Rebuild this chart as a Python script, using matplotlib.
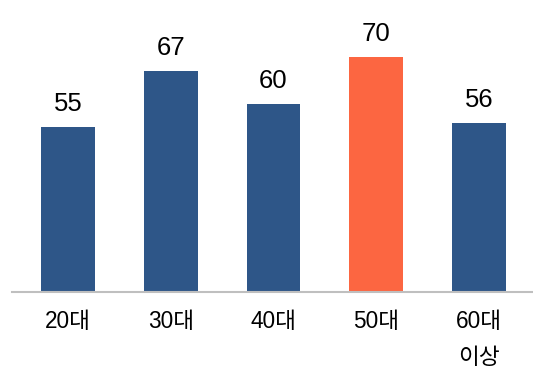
import matplotlib.pyplot as plt

# 데이터
categories = ['20대', '30대', '40대', '50대', '60대\n이상']
values = [55, 67, 60, 70, 56]
colors = ['#2E5688', '#2E5688', '#2E5688', '#FC6641', '#2E5688']

plt.rcParams['font.family'] = ['Liberation Sans', 'Noto Sans CJK KR', 'DejaVu Sans']


def draw_chart():
    fig = plt.figure(figsize=(5.33, 3.69), dpi=100)
    ax = fig.add_axes([12 / 533, 77 / 369, 521 / 533, 292 / 369])

    x = range(len(categories))
    bars = ax.bar(x, values, width=0.525, color=colors)

    for bar, v in zip(bars, values):
        ax.annotate(str(v), (bar.get_x() + bar.get_width() / 2, v),
                    xytext=(0, 8), textcoords='offset points',
                    ha='center', va='bottom', fontsize=18.5, color='black')

    ax.set_xlim(-0.545, 4.526)
    ax.set_ylim(20, 82.1)
    ax.set_xticks(list(x))
    ax.set_xticklabels(categories, fontsize=16.3, linespacing=1.7, va='top')
    ax.tick_params(axis='x', length=0, pad=13)
    ax.set_yticks([])

    for side in ['top', 'right', 'left']:
        ax.spines[side].set_visible(False)
    ax.spines['bottom'].set_color('#BFBFBF')
    ax.spines['bottom'].set_linewidth(1.5)

    fig.savefig('out.png', dpi=100)


if __name__ == '__main__':
    draw_chart()
